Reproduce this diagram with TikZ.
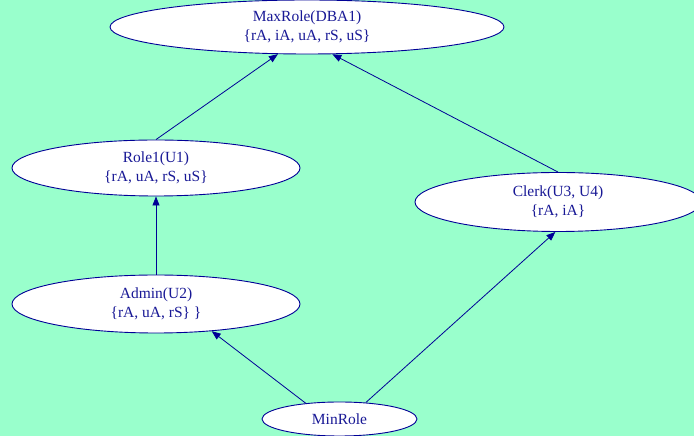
\documentclass[tikz,border=0pt]{standalone}
\usepackage{fontspec}
\setmainfont{Liberation Serif}
\usetikzlibrary{shapes.geometric,arrows.meta}
\definecolor{bgmint}{RGB}{153,255,204}
\definecolor{navyline}{RGB}{0,0,150}
\definecolor{navytext}{RGB}{25,25,150}
\tikzset{
  rolenode/.style={ellipse, draw=navyline, fill=white, line width=0.9pt, inner sep=0pt,
    text=navytext, align=center, font=\fontsize{15.5}{19}\selectfont},
  edge/.style={draw=navyline, line width=0.8pt, -{Triangle[length=9pt,width=7pt]}}
}
\begin{document}
\begin{tikzpicture}[x=1pt,y=1pt]
\fill[bgmint] (0,0) rectangle (694,436);
\useasboundingbox (0,0) rectangle (694,436);
\node[rolenode, minimum width=394pt, minimum height=54pt] (maxrole) at (307,409) {MaxRole(DBA1)\\\{rA, iA, uA, rS, uS\}};
\node[rolenode, minimum width=288pt, minimum height=56pt] (role1) at (156,268) {Role1(U1)\\\{rA, uA, rS, uS\}};
\node[rolenode, minimum width=286pt, minimum height=59pt] (clerk) at (558,234) {Clerk(U3, U4)\\\{rA, iA\}};
\node[rolenode, minimum width=288pt, minimum height=58pt] (admin) at (156,132) {Admin(U2)\\\{rA, uA, rS\} \}};
\node[rolenode, minimum width=155pt, minimum height=34pt] (minrole) at (339.5,17) {MinRole};
\draw[edge] (role1.north) -- (maxrole.-137);
\draw[edge] (clerk.north) -- (maxrole.-47);
\draw[edge] (admin.north) -- (role1.south);
\draw[edge] (minrole.155) -- (admin.-26);
\draw[edge] (minrole.32) -- (clerk.-95.5);
\end{tikzpicture}
\end{document}
